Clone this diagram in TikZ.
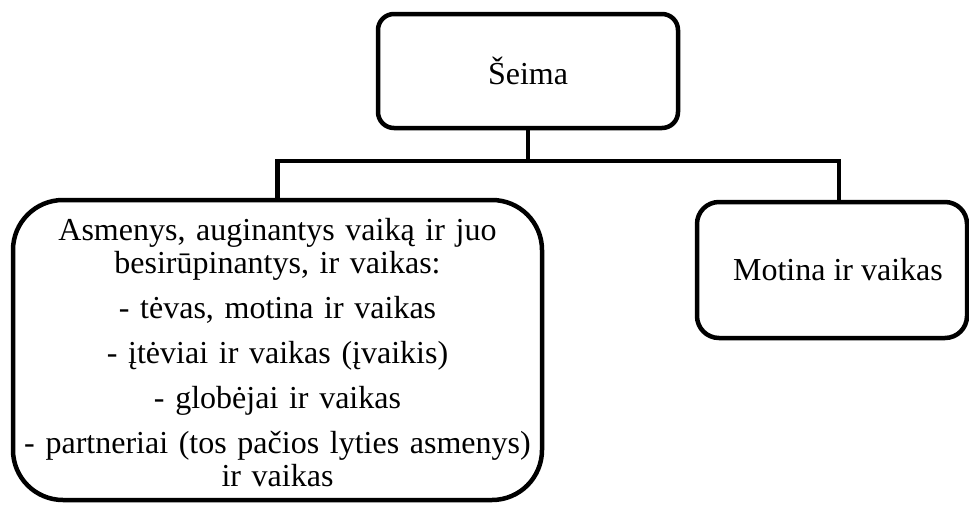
\documentclass[tikz,border=0pt]{standalone}
\usepackage{fontspec}
\setmainfont{Liberation Serif}
\usetikzlibrary{calc}
\begin{document}
\begin{tikzpicture}[x=1pt,y=-1pt,
  box/.style={draw=black, line width=4.5pt, fill=white, align=center,
    font=\fontsize{32}{33}\selectfont, inner sep=0pt},
  boxtext/.style={align=center, font=\fontsize{32}{33}\selectfont, inner sep=0pt},
  conn/.style={draw=black, line width=4.5pt}]
\useasboundingbox (0,0) rectangle (969,504);

% root
\node[box, rounded corners=16pt, minimum width=300, minimum height=114] (root) at (528,71) {Šeima};

% children
\node[box, rounded corners=50pt, minimum width=529, minimum height=300] (lbox) at (277.5,350) {};
\node[boxtext, text width=520pt, anchor=base] (ltext) at (277.5,240)
  {Asmenys, auginantys vaiką ir juo\\besirūpinantys, ir vaikas:\\[12pt]
   - tėvas, motina ir vaikas\\[12pt]
   - įtėviai ir vaikas (įvaikis)\\[12pt]
   - globėjai ir vaikas\\[12pt]
   - partneriai (tos pačios lyties asmenys)\\ir vaikas};
\node[box, rounded corners=22pt, minimum width=270, minimum height=136] (rbox) at (832,270) {};
\node[boxtext] (rtext) at (838,270) {Motina ir vaikas};

% connectors
\coordinate (bus) at (528,161);
\coordinate (rtop) at ($(rbox.north)+(7,0)$);
\draw[conn] (root.south) -- (bus);
\draw[conn] (lbox.north) |- (bus) -| (rtop);
\end{tikzpicture}
\end{document}
